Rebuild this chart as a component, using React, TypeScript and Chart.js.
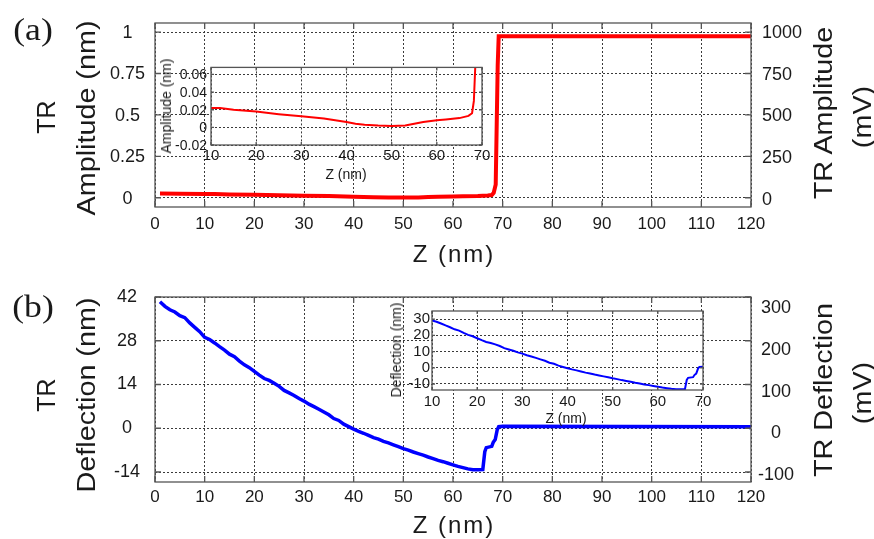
import React, { useEffect, useRef } from 'react';
import { Chart, registerables } from 'chart.js';

Chart.register(...registerables);

const SANS = '"Liberation Sans", Arial, Helvetica, sans-serif';
const SERIF = '"Liberation Serif", "Times New Roman", serif';

// ---------- data ----------
const zAmplitude = [1, 5, 10, 12, 15, 20, 25, 30, 35, 40, 42, 44, 47, 50, 53, 55, 57, 60, 62, 65, 67, 67.8, 68.2, 68.6, 69.0, 69.2, 120];
const amplitudeNm = [0.025, 0.024, 0.022, 0.022, 0.02, 0.018, 0.015, 0.0125, 0.01, 0.006, 0.004, 0.003, 0.002, 0.0015, 0.002, 0.004, 0.006, 0.008, 0.009, 0.0105, 0.013, 0.016, 0.03, 0.08, 0.8, 0.975, 0.975];

const zDeflection = [1, 2, 3, 4, 5, 6, 7, 8, 9, 10, 11, 12, 13, 14, 15, 16, 17, 18, 19, 20, 21, 22, 23, 24, 25, 26, 27, 28, 29, 30, 31, 32, 33, 34, 35, 36, 37, 38, 39, 40, 41, 42, 43, 44, 45, 46, 47, 48, 49, 50, 51, 52, 53, 54, 55, 56, 57, 58, 59, 60, 61, 62, 63, 64, 65, 66, 66.4, 66.7, 67.8, 68.1, 68.5, 68.9, 69.2, 70, 119.8, 120];
const deflectionNm = [40.5, 39.0, 37.9, 37.2, 36.0, 35.4, 33.7, 32.3, 30.9, 29.1, 28.4, 27.3, 26.1, 25.0, 23.7, 22.9, 21.5, 20.3, 19.4, 18.2, 17.0, 15.9, 15.3, 14.4, 13.4, 12.1, 11.3, 10.5, 9.5, 8.7, 7.7, 6.9, 6.1, 5.2, 4.3, 3.1, 2.5, 1.3, 0.5, -0.3, -1.0, -1.6, -2.3, -3.0, -3.5, -4.2, -4.7, -5.3, -5.9, -6.5, -7.0, -7.6, -8.1, -8.6, -9.2, -9.7, -10.3, -10.7, -11.2, -11.7, -12.2, -12.6, -13.0, -13.3, -13.3, -13.2, -7.5, -6.2, -5.8, -4.5, -3.6, -0.5, 0.5, 0.6, 0.5, -0.2];

const zTicks = [0, 10, 20, 30, 40, 50, 60, 70, 80, 90, 100, 110, 120];
const amplitudeTicks = [0, 0.25, 0.5, 0.75, 1];
const amplitudeMvTicks = [0, 250, 500, 750, 1000];
const deflectionTicks = [-14, 0, 14, 28, 42];
const deflectionMvTicks = [-100, 0, 100, 200, 300];
const insetZTicks = [10, 20, 30, 40, 50, 60, 70];
const insetAmplitudeTicks = [-0.02, 0, 0.02, 0.04, 0.06];
const insetDeflectionTicks = [-10, 0, 10, 20, 30];

type Cfg = {
  xs: number[];
  ys: number[];
  color: string;
  lineWidth: number;
  xMin: number;
  xMax: number;
  xTicks: number[];
  yMin: number;
  yMax: number;
  yTicks: number[];
  rMin?: number;
  rMax?: number;
  rTicks?: number[];
  leftWidth: number;
  rightWidth?: number;
  xHeight: number;
  padTop: number;
  padRight: number;
  xFont: number;
  yFont: number;
  xPad: number;
  yPad: number;
  yAlign: 'near' | 'center' | 'far';
  yLabelOffset: number;
  rPad?: number;
  rAlign?: 'near' | 'center' | 'far';
  rLabelOffset?: number;
  whiteBg: boolean;
  tickLen: number;
};

const frame = {
  id: 'frame',
  beforeDraw(chart: any, _a: any, opts: any) {
    if (!opts.whiteBg) return;
    const { ctx, chartArea: a } = chart;
    ctx.save();
    ctx.fillStyle = '#ffffff';
    ctx.fillRect(a.left, a.top, a.right - a.left, a.bottom - a.top);
    ctx.restore();
  },
  afterDraw(chart: any, _a: any, opts: any) {
    const { ctx, chartArea: a, scales } = chart;
    ctx.save();
    ctx.strokeStyle = '#555555';
    ctx.lineWidth = 1.3;
    ctx.setLineDash([]);
    const L = opts.tickLen || 5;
    ctx.beginPath();
    scales.x.ticks.forEach((t: any) => {
      const px = scales.x.getPixelForValue(t.value);
      ctx.moveTo(px, a.bottom);
      ctx.lineTo(px, a.bottom - L);
      ctx.moveTo(px, a.top);
      ctx.lineTo(px, a.top + L);
    });
    scales.y.ticks.forEach((t: any) => {
      const py = scales.y.getPixelForValue(t.value);
      ctx.moveTo(a.left, py);
      ctx.lineTo(a.left + L, py);
      ctx.moveTo(a.right, py);
      ctx.lineTo(a.right - L, py);
    });
    ctx.stroke();
    ctx.strokeRect(a.left, a.top, a.right - a.left, a.bottom - a.top);
    ctx.restore();
  },
};

function build(canvas: HTMLCanvasElement, c: Cfg) {
  const setTicks = (arr: number[]) => (s: any) => {
    s.ticks = arr.map((v) => ({ value: v }));
  };
  const scales: any = {
    x: {
      type: 'linear',
      min: c.xMin,
      max: c.xMax,
      afterBuildTicks: setTicks(c.xTicks),
      grid: { color: '#3a3a3a', lineWidth: 1, drawTicks: false },
      border: { display: false, dash: [2, 2] },
      ticks: {
        font: { family: SANS, size: c.xFont },
        color: '#1a1a1a',
        padding: c.xPad,
        maxRotation: 0,
        autoSkip: false,
        callback: (v: any) => String(v),
      },
      afterFit: (s: any) => {
        s.height = c.xHeight;
      },
    },
    y: {
      type: 'linear',
      position: 'left',
      min: c.yMin,
      max: c.yMax,
      afterBuildTicks: setTicks(c.yTicks),
      grid: { color: '#3a3a3a', lineWidth: 1, drawTicks: false },
      border: { display: false, dash: [2, 2] },
      ticks: {
        font: { family: SANS, size: c.yFont },
        color: '#1a1a1a',
        padding: c.yPad,
        crossAlign: c.yAlign,
        labelOffset: c.yLabelOffset,
        autoSkip: false,
        callback: (v: any) => String(v),
      },
      afterFit: (s: any) => {
        s.width = c.leftWidth;
      },
    },
  };
  if (c.rTicks) {
    scales.yr = {
      type: 'linear',
      position: 'right',
      min: c.rMin,
      max: c.rMax,
      afterBuildTicks: setTicks(c.rTicks),
      grid: { drawOnChartArea: false, drawTicks: false },
      border: { display: false },
      ticks: {
        font: { family: SANS, size: c.yFont },
        color: '#1a1a1a',
        padding: c.rPad,
        crossAlign: c.rAlign,
        labelOffset: c.rLabelOffset,
        autoSkip: false,
        callback: (v: any) => String(v),
      },
      afterFit: (s: any) => {
        s.width = c.rightWidth;
      },
    };
  }
  return new Chart(canvas, {
    type: 'line',
    data: {
      datasets: [
        {
          data: c.xs.map((x, i) => ({ x, y: c.ys[i] })),
          borderColor: c.color,
          borderWidth: c.lineWidth,
          pointRadius: 0,
          tension: 0,
          fill: false,
          xAxisID: 'x',
          yAxisID: 'y',
        },
      ],
    },
    options: {
      responsive: false,
      maintainAspectRatio: false,
      animation: false,
      events: [],
      layout: { padding: { top: c.padTop, right: c.padRight, left: 0, bottom: 0 } },
      plugins: {
        legend: { display: false },
        tooltip: { enabled: false },
        frame: { whiteBg: c.whiteBg, tickLen: c.tickLen },
      } as any,
      scales,
    },
    plugins: [frame],
  });
}

function ChartCanvas(props: { cfg: Cfg; left: number; top: number; width: number; height: number }) {
  const ref = useRef<HTMLCanvasElement>(null);
  useEffect(() => {
    if (!ref.current) return;
    const ch = build(ref.current, props.cfg);
    return () => ch.destroy();
  }, []);
  return (
    <canvas
      ref={ref}
      width={props.width}
      height={props.height}
      style={{ position: 'absolute', left: props.left, top: props.top, width: props.width, height: props.height }}
    />
  );
}

function Label(props: {
  text: string;
  x: number;
  y: number;
  size: number;
  rotate?: boolean;
  stretch?: number;
  serif?: boolean;
  spacing?: number;
}) {
  const s = props.stretch || 1;
  const tf = props.rotate
    ? `translate(-50%, -50%) rotate(-90deg) scale(${s}, 1)`
    : `translate(-50%, -50%) scale(${s}, 1)`;
  return (
    <div
      style={{
        position: 'absolute',
        left: props.x,
        top: props.y,
        transform: tf,
        fontFamily: props.serif ? SERIF : SANS,
        fontSize: props.size,
        lineHeight: 1,
        whiteSpace: 'nowrap',
        color: '#1a1a1a',
        letterSpacing: props.spacing || 0,
      }}
    >
      {props.text}
    </div>
  );
}

const mainA: Cfg = {
  xs: zAmplitude, ys: amplitudeNm, color: '#ff0000', lineWidth: 4,
  xMin: 0, xMax: 120, xTicks: zTicks,
  yMin: -0.056, yMax: 1.055, yTicks: amplitudeTicks,
  rMin: -42, rMax: 1059, rTicks: amplitudeMvTicks,
  leftWidth: 155, rightWidth: 123, xHeight: 63, padTop: 23, padRight: 0,
  xFont: 17, yFont: 18, xPad: 7, yPad: 10, yAlign: 'center', yLabelOffset: 1,
  rPad: 11, rAlign: 'near', rLabelOffset: 0, whiteBg: false, tickLen: 6,
};

const insetA: Cfg = {
  xs: zAmplitude, ys: amplitudeNm, color: '#ff0000', lineWidth: 2,
  xMin: 10, xMax: 70, xTicks: insetZTicks,
  yMin: -0.02, yMax: 0.068, yTicks: insetAmplitudeTicks,
  leftWidth: 61, xHeight: 25, padTop: 12, padRight: 13,
  xFont: 15, yFont: 14, xPad: 2, yPad: 4, yAlign: 'near', yLabelOffset: 1,
  whiteBg: true, tickLen: 3,
};

const mainB: Cfg = {
  xs: zDeflection, ys: deflectionNm, color: '#0000ff', lineWidth: 3.5,
  xMin: 0, xMax: 120, xTicks: zTicks,
  yMin: -17.2, yMax: 42, yTicks: deflectionTicks,
  rMin: -117, rMax: 327, rTicks: deflectionMvTicks,
  leftWidth: 155, rightWidth: 123, xHeight: 57, padTop: 27, padRight: 0,
  xFont: 17, yFont: 18, xPad: 5, yPad: 15, yAlign: 'center', yLabelOffset: 0,
  rPad: 7, rAlign: 'center', rLabelOffset: 0, whiteBg: false, tickLen: 6,
};

const insetB: Cfg = {
  xs: zDeflection, ys: deflectionNm, color: '#0000ff', lineWidth: 2,
  xMin: 10, xMax: 70, xTicks: insetZTicks,
  yMin: -13.7, yMax: 35, yTicks: insetDeflectionTicks,
  leftWidth: 52, xHeight: 20, padTop: 10, padRight: 12,
  xFont: 15, yFont: 15, xPad: 3, yPad: 2, yAlign: 'near', yLabelOffset: 0,
  whiteBg: true, tickLen: 3,
};

export default function App() {
  return (
    <div style={{ position: 'absolute', left: 0, top: 0, width: 874, height: 539, background: '#ffffff', overflow: 'hidden' }}>
      <ChartCanvas cfg={mainA} left={0} top={0} width={874} height={270} />
      <ChartCanvas cfg={insetA} left={150} top={55} width={345} height={115} />
      <ChartCanvas cfg={mainB} left={0} top={270} width={874} height={269} />
      <ChartCanvas cfg={insetB} left={380} top={300} width={335} height={110} />

      <Label text="(a)" x={33} y={29} size={31} serif stretch={1.15} />
      <Label text="TR" x={46} y={117} size={25} rotate stretch={1.0} />
      <Label text="Amplitude (nm)" x={86} y={118} size={25} rotate stretch={1.15} />
      <Label text="TR Amplitude" x={823} y={113} size={25} rotate stretch={1.15} />
      <Label text="(mV)" x={862} y={117} size={25} rotate stretch={1.15} />
      <Label text="Z (nm)" x={454} y={254} size={24} spacing={2} />
      <Label text="Amplitude (nm)" x={166} y={106} size={14} rotate />
      <Label text="Z (nm)" x={346} y={174} size={14} />

      <Label text="(b)" x={33} y={306} size={31} serif stretch={1.15} />
      <Label text="TR" x={46} y={395} size={25} rotate stretch={1.0} />
      <Label text="Deflection (nm)" x={86} y={395} size={25} rotate stretch={1.15} />
      <Label text="TR Deflection" x={823} y={390} size={25} rotate stretch={1.15} />
      <Label text="(mV)" x={862} y={393} size={25} rotate stretch={1.15} />
      <Label text="Z (nm)" x={454} y={525} size={24} spacing={2} />
      <Label text="Deflection (nm)" x={396} y={350} size={14} rotate />
      <Label text="Z (nm)" x={566} y={418} size={14} />
    </div>
  );
}
